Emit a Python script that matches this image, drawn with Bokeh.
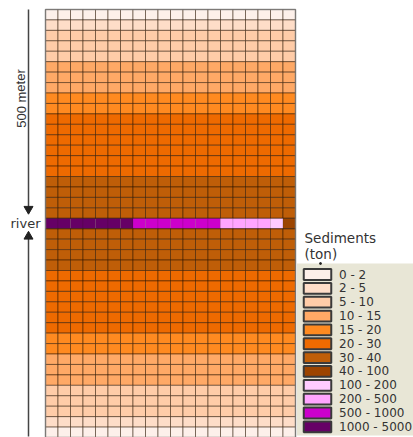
from bokeh.plotting import figure
from bokeh.models import Range1d, ColumnDataSource
from bokeh.core.properties import value
from bokeh.embed import file_html
from bokeh.resources import INLINE

# Class labels and colours
classes = ["0 - 2", "2 - 5", "5 - 10", "10 - 15", "15 - 20", "20 - 30", "30 - 40",
           "40 - 100", "100 - 200", "200 - 500", "500 - 1000", "1000 - 5000"]
colors = ["#FDF0EA", "#FEDDC8", "#FFCCA8", "#FFA966", "#FF8A20", "#EE6A00", "#BF5E08",
          "#9C4400", "#FFCCFF", "#FFA5FF", "#CC00CC", "#660066"]

n_cols = 20
# Class index of each row, top to bottom (row 20 is the river)
row_class = [0, 1, 2, 2, 2, 3, 3, 3, 4, 4, 5, 5, 5, 5, 5, 5,
             6, 6, 6, 6, 6, 6, 6, 6, 6,
             5, 5, 5, 5, 5, 5, 4, 4, 3, 3, 3, 2, 2, 2, 1, 0]
river_row = 20
# Class index of each river cell, left to right
river_class = [11, 11, 11, 11, 11, 11, 11, 10, 10, 10, 10, 10, 10, 10, 9, 9, 9, 9, 8, 7]

xs, ys, fills, alphas = [], [], [], []
for r, c0 in enumerate(row_class):
    for c in range(n_cols):
        if r == river_row:
            k = river_class[c]
            a = 0.12
        else:
            k = c0
            a = 0.5
        xs.append(c + 0.5)
        ys.append(r + 0.5)
        fills.append(colors[k])
        alphas.append(a)

W, H = 413, 437
CW, CH = 12.5, 10.44
LEFT, TOP = 45, 9
p = figure(width=W, height=H, output_backend="svg", toolbar_location=None,
           x_range=Range1d(-LEFT / CW, (W - LEFT) / CW),
           y_range=Range1d((H - TOP) / CH, -TOP / CH),
           x_axis_location=None, y_axis_location=None,
           min_border=0, outline_line_color=None, tools="")
p.grid.visible = False
p.background_fill_color = "white"
p.border_fill_color = "white"

LROW, L0 = 13.85, 274
p.extra_x_ranges = {"px": Range1d(0, W)}
p.extra_y_ranges = {"px": Range1d(H, 0), "leg": Range1d((H - L0) / LROW, -L0 / LROW)}

# Grid cells: fill first, river borders kept faint
src = ColumnDataSource(dict(x=xs, y=ys, fill=fills, a=alphas))
p.rect("x", "y", 1, 1, source=src, fill_color="fill", line_color="#2a1400",
       line_alpha="a", line_width=1)
# Horizontal edges of the river row and outer border
p.segment(x0=[0, 0], x1=[n_cols, n_cols], y0=[river_row, river_row + 1], y1=[river_row, river_row + 1],
          line_color="#2a1400", line_alpha=0.5, line_width=1)
p.rect([n_cols / 2], [len(row_class) / 2], n_cols, len(row_class), fill_color=None,
       line_color="#777777", line_alpha=0.8, line_width=1.5)

# Distance arrows
p.segment(x0=[28, 28], x1=[28, 28], y0=[9, 237], y1=[207, 436], x_range_name="px", y_range_name="px",
          line_color="#444444", line_width=1.5)
p.scatter([28], [208.5], marker="inverted_triangle", size=9, color="#222222",
          x_range_name="px", y_range_name="px")
p.scatter([28], [236], marker="triangle", size=9, color="#222222",
          x_range_name="px", y_range_name="px")
p.text([20.5], [98], text=["500 meter"], angle=1.5708, text_align="center", text_baseline="middle",
       text_font=value("Liberation Sans"), text_font_size="13px", text_color="#333333",
       x_range_name="px", y_range_name="px")
p.text([10], [222.5], text=["river"], text_font=value("DejaVu Sans"), text_font_size="13px",
       text_color="#333333", text_baseline="middle", x_range_name="px", y_range_name="px")

# Legend
p.quad(left=[296.5], right=[413], top=[263], bottom=[435], fill_color="#E8E6D6", line_color=None,
       x_range_name="px", y_range_name="px")
p.scatter([320], [263], marker="circle", size=2, color="#222222", x_range_name="px", y_range_name="px")
leg_y = list(range(len(classes)))
p.rect([317] * len(classes), leg_y, 27.5, 0.78, fill_color=colors, line_color="#3a3a3a", line_width=2,
       x_range_name="px", y_range_name="leg")
p.text([338.5] * len(classes), leg_y, text=classes, text_font=value("DejaVu Sans"), text_font_size="12px",
       text_color="#333333", text_baseline="middle", x_range_name="px", y_range_name="leg")
p.text([304, 304], [237.5, 253], text=["Sediments", "(ton)"], text_font=value("DejaVu Sans"),
       text_font_size="13.5px", text_color="#333333", text_baseline="middle",
       x_range_name="px", y_range_name="px")

open("out.html", "w").write(file_html(p, INLINE))
